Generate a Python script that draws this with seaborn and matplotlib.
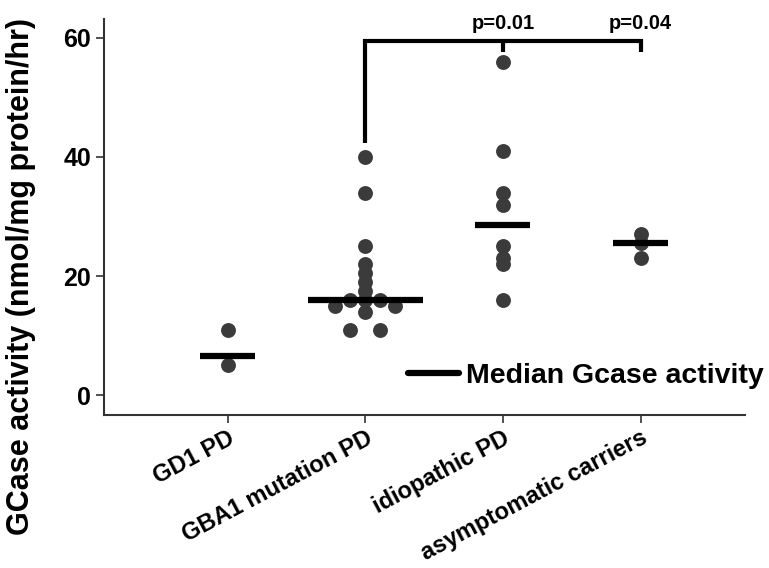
import matplotlib
matplotlib.use("Agg")
import matplotlib.pyplot as plt
from matplotlib.lines import Line2D
import pandas as pd
import seaborn as sns

# values
groups = ["GD1 PD", "GBA1 mutation PD", "idiopathic PD", "asymptomatic carriers"]
gd1_pd = [11, 5]
gba1_pd = [40, 34, 25, 22, 20.5, 19, 17.5, 16, 16, 16, 15, 15, 14, 11, 11]
idiopathic_pd = [56, 41, 34, 32, 25, 23, 22, 16]
carriers = [27, 25.5, 23]
medians = [6.5, 16, 28.5, 25.5]
p_labels = ["p=0.01", "p=0.04"]


def tie_slots(values, v_tol=1.2):
    """Prism-style scatter: single values stay in the centre column,
    equal values spread sideways and step out of rows just above them."""
    placed = []
    slot_of = {}
    for v in sorted(set(values), reverse=True):
        n = values.count(v)
        if n == 1:
            block = [0]
        else:
            for spread in range(1, 6):
                if n % 2:
                    block = [k * spread for k in range(-(n // 2), n // 2 + 1)]
                else:
                    block = [s * spread * (k + 1) for k in range(n // 2) for s in (-1, 1)]
                if not any(abs(v - pv) < v_tol and ps in block for pv, ps in placed):
                    break
        placed += [(v, s) for s in block]
        slot_of[v] = list(block)
    return [slot_of[v].pop(0) for v in values]


step = 0.109  # one marker diameter in category units
frames = []
for i, (g, vals) in enumerate(zip(groups, [gd1_pd, gba1_pd, idiopathic_pd, carriers])):
    slots = tie_slots(vals)
    frames.append(pd.DataFrame({"group": g, "activity": vals,
                                "xpos": [i + s * step for s in slots]}))
df = pd.concat(frames, ignore_index=True)

sns.set_theme(style="white")
plt.rcParams["font.family"] = ["Liberation Sans", "DejaVu Sans"]
plt.rcParams["font.weight"] = "bold"
plt.rcParams["text.color"] = "black"
plt.rcParams["axes.labelcolor"] = "black"
plt.rcParams["xtick.labelcolor"] = "black"
plt.rcParams["ytick.labelcolor"] = "black"

fig = plt.figure(figsize=(7.69, 5.68), dpi=100)
ax = fig.add_axes([0.135, 0.269, 0.834, 0.698])

sns.scatterplot(data=df, x="xpos", y="activity", color="#3b3b3b", s=115,
                linewidth=0, ax=ax, zorder=2, legend=False)

# median bars
half_w = [0.2, 0.42, 0.2, 0.2]
for i, (m, hw) in enumerate(zip(medians, half_w)):
    ax.hlines(m, i - hw, i + hw, color="black", lw=4.5, zorder=3)

# significance bracket: GBA1 vs idiopathic and carriers
bracket_y = 59.5
ax.plot([1, 1, 3, 3], [42.4, bracket_y, bracket_y, 57.6], color="black", lw=3,
        solid_joinstyle="miter", solid_capstyle="butt", clip_on=False)
ax.plot([2, 2], [bracket_y, 57.6], color="black", lw=3, solid_capstyle="butt")
for x, lab in zip([2, 3], p_labels):
    ax.text(x, bracket_y + 1.3, lab, ha="center", va="bottom", fontsize=14.5,
            fontweight="bold")

ax.set_xlim(-0.9, 3.76)
ax.set_ylim(-3.36, 63.2)
ax.set_yticks([0, 20, 40, 60])
ax.set_xticks(range(len(groups)))
ax.set_xticklabels(groups, rotation=28, ha="right", rotation_mode="anchor",
                   fontsize=17, fontweight="bold")
ax.tick_params(axis="y", labelsize=18, length=6, width=1.2, color="#333333",
               direction="out", left=True, pad=3)
ax.tick_params(axis="x", length=6, width=1.2, color="#333333", direction="out",
               bottom=True, pad=2)
for lab in ax.get_yticklabels():
    lab.set_fontweight("bold")
ax.set_xlabel("")
ax.set_ylabel("GCase activity (nmol/mg protein/hr)", fontsize=22, fontweight="bold")
ax.yaxis.set_label_coords(-0.106, 0.35)
sns.despine(ax=ax)
for side in ["left", "bottom"]:
    ax.spines[side].set_color("#333333")
    ax.spines[side].set_linewidth(1.5)

handle = Line2D([], [], color="black", lw=4.5)
ax.legend([handle], ["Median Gcase activity"], loc="center left",
          bbox_to_anchor=(0.474, 0.098), frameon=False,
          handlelength=1.8, handletextpad=0.25, borderpad=0, borderaxespad=0,
          prop={"weight": "bold", "size": 20.5})

fig.savefig("out.png", dpi=100)
